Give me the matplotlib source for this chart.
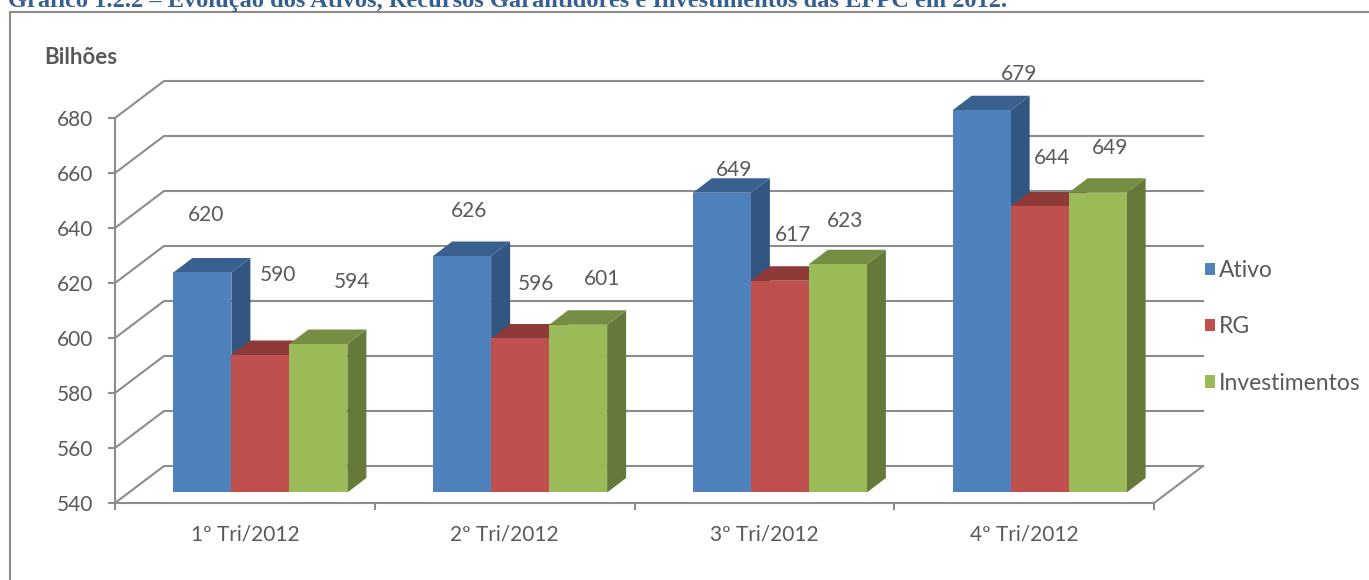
import numpy as np
import matplotlib
matplotlib.use('Agg')
import matplotlib.pyplot as plt
from matplotlib.lines import Line2D
from matplotlib.patches import Patch

# Data
categories = ['1º Tri/2012', '2º Tri/2012', '3º Tri/2012', '4º Tri/2012']
ativo = [620, 626, 649, 679]
rg = [590, 596, 617, 644]
investimentos = [594, 601, 623, 649]
series_names = ['Ativo', 'RG', 'Investimentos']
y_ticks = [540, 560, 580, 600, 620, 640, 660, 680]
title = 'Gráfico 1.2.2 – Evolução dos Ativos, Recursos Garantidores e Investimentos das EFPC em 2012.'

# Data labels float away from the bars in the original (pixels from bar top)
ativo_offsets = [(4, 57), (7, 45), (12, 23), (37, 36)]
rg_offsets = [(18, 80), (16, 54), (13, 46), (12, 48)]
inv_offsets = [(34, 62), (24, 46), (7, 43), (12, 45)]

# Colours: front, top, side
BLUE = ('#4F81BD', '#3A6090', '#325681')
RED = ('#C0504D', '#8E3A38', '#8E3A38')
GREEN = ('#9BBB59', '#768E44', '#64793A')
LINE = '#8C8C8C'
TEXT = '#595959'
FONT = 'Lato'

W, H = 1369, 580
AX_L, AX_R, AX_T, AX_B = 115, 1154, 118, 503

fig = plt.figure(figsize=(W / 100, H / 100), dpi=100)
ax = fig.add_axes([AX_L / W, 1 - AX_B / H, (AX_R - AX_L) / W, (AX_B - AX_T) / H])
ax.set_xlim(0, 4)
ax.set_ylim(540, 680)

# Conversion of the fake 3D offsets from pixels to data units
px_x = 4 / (AX_R - AX_L)
px_y = 140 / (AX_B - AX_T)
wall_dx, wall_dy = 49 * px_x, 37 * px_y
shift_dx, shift_dy = 15.5 * px_x, 10.5 * px_y
depth_dx, depth_dy = 19 * px_x, 14.5 * px_y
bar_w = 58 * px_x

# Back wall and side wall grid lines
for v in y_ticks:
    ax.plot([0, wall_dx, 4 + wall_dx], [v, v + wall_dy, v + wall_dy],
            color=LINE, lw=1.5, clip_on=False, zorder=1)
ax.plot([4, 4 + wall_dx], [540, 540 + wall_dy], color=LINE, lw=1.5, clip_on=False, zorder=1)


def draw_bars(values, offset, colors, offsets):
    for i, v in enumerate(values):
        x0 = i + 0.5 + shift_dx + (offset - 0.5) * bar_w
        x1 = x0 + bar_w
        y0 = 540 + shift_dy
        y1 = v + shift_dy
        # side face
        ax.fill([x1, x1 + depth_dx, x1 + depth_dx, x1],
                [y0, y0 + depth_dy, y1 + depth_dy, y1],
                color=colors[2], lw=0, clip_on=False, zorder=3)
        # top face
        ax.fill([x0, x0 + depth_dx, x1 + depth_dx, x1],
                [y1, y1 + depth_dy, y1 + depth_dy, y1],
                color=colors[1], lw=0, clip_on=False, zorder=3)
        # front face
        ax.bar(x0, y1 - y0, width=bar_w, bottom=y0, align='edge',
               color=colors[0], lw=0, clip_on=False, zorder=3)
        # the tallest bar goes past the axes top, so the label must not be clipped
        ax.annotate(str(v), xy=((x0 + x1) / 2, y1), xytext=offsets[i],
                    textcoords='offset pixels', ha='center', va='center',
                    fontsize=15, family=FONT, color=TEXT, zorder=5,
                    annotation_clip=False)


draw_bars(ativo, -1, BLUE, ativo_offsets)
draw_bars(rg, 0, RED, rg_offsets)
draw_bars(investimentos, 1, GREEN, inv_offsets)

# Axes
for side in ['top', 'right']:
    ax.spines[side].set_visible(False)
for side in ['left', 'bottom']:
    ax.spines[side].set_color(LINE)
    ax.spines[side].set_linewidth(1.5)
ax.set_yticks(y_ticks)
ax.set_xticks(range(5))
ax.set_xticklabels([])
ax.set_xticks(np.arange(4) + 0.5, minor=True)
ax.set_xticklabels(categories, minor=True)
ax.tick_params(axis='both', which='major', color=LINE, width=1.5, length=5)
ax.tick_params(axis='x', which='minor', length=0, pad=15.5, labelsize=15, labelcolor=TEXT)
ax.tick_params(axis='y', which='major', pad=11, labelsize=15, labelcolor=TEXT)
for label in ax.get_xticklabels(minor=True) + ax.get_yticklabels():
    label.set_family(FONT)
ax.set_facecolor('none')

# Legend
handles = [Patch(color=c[0], lw=0) for c in (BLUE, RED, GREEN)]
fig.legend(handles, series_names, loc='center left',
           bbox_to_anchor=(1205 / W, 1 - 327 / H), frameon=False,
           prop={'family': FONT, 'size': 16.5}, labelcolor=TEXT,
           handlelength=0.45, handleheight=0.45, handletextpad=0.15, labelspacing=1.54,
           borderpad=0, borderaxespad=0)

# Frame around the chart, open at the right and bottom where the picture is cut
fig.add_artist(Line2D([9.5 / W, 9.5 / W, 1], [0, 1 - 12 / H, 1 - 12 / H], color=LINE, lw=1.5))

fig.text(44 / W, 1 - 58 / H, 'Bilhões', family=FONT, fontweight='bold', fontsize=16,
         color=TEXT, va='center')
fig.text(8 / W, 1 - 7 / H, title, family='Liberation Serif', fontweight='bold', fontsize=17.6,
         color='#365F91', va='baseline')

fig.savefig('out.png', dpi=100)
